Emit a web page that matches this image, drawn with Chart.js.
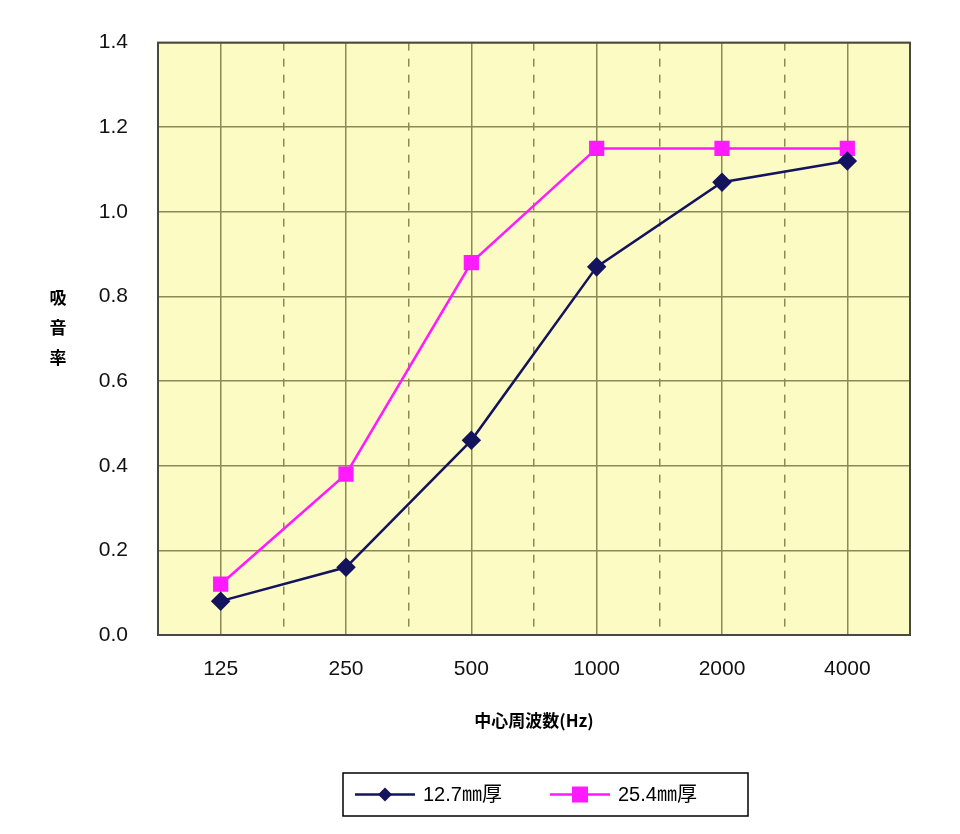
<!DOCTYPE html>
<html><head><meta charset="utf-8">
<script src="https://cdn.jsdelivr.net/npm/chart.js"></script>
<style>html,body{margin:0;padding:0;background:#fff}#w{width:960px;height:834px}</style>
</head><body><div id="w"><canvas id="c"></canvas></div>
<script>
const categories = ['125','250','500','1000','2000','4000'];
const series127 = [0.08, 0.16, 0.46, 0.87, 1.07, 1.12];
const series254 = [0.12, 0.38, 0.88, 1.15, 1.15, 1.15];
const seriesNames = ['12.7㎜厚', '25.4㎜厚'];
const yTitle = ['吸','音','率'];
const xTitle = '中心周波数(Hz)';
const FONT = '"Liberation Sans", Arial, "Noto Sans CJK JP", sans-serif';

const extras = {
  id: 'extras',
  beforeDraw(chart) {
    const a = chart.chartArea, ctx = chart.ctx;
    ctx.save(); ctx.fillStyle = '#fdfbc4';
    ctx.fillRect(a.left, a.top, a.right - a.left, a.bottom - a.top);
    ctx.restore();
  },
  afterDraw(chart) {
    const ctx = chart.ctx, a = chart.chartArea;
    ctx.save();
    ctx.strokeStyle = '#4a4a3a'; ctx.lineWidth = 2;
    ctx.strokeRect(a.left, a.top, a.right - a.left, a.bottom - a.top);
    ctx.fillStyle = '#000'; ctx.font = 'bold 17px "Noto Sans CJK JP", sans-serif';
    ctx.textAlign = 'center'; ctx.textBaseline = 'middle';
    yTitle.forEach((ch, i) => ctx.fillText(ch, 58, 298 + i * 30));
    const bx = 343, by = 773, bw = 405, bh = 43;
    ctx.strokeStyle = '#000'; ctx.lineWidth = 1.5; ctx.strokeRect(bx, by, bw, bh);
    const cy = by + bh / 2;
    chart.data.datasets.forEach((ds, i) => {
      const x0 = bx + 12 + i * 195;
      ctx.strokeStyle = ds.borderColor; ctx.lineWidth = 2.5;
      ctx.beginPath(); ctx.moveTo(x0, cy); ctx.lineTo(x0 + 60, cy); ctx.stroke();
      ctx.fillStyle = ds.backgroundColor;
      ctx.beginPath();
      if (i === 0) { const r = 7; ctx.moveTo(x0+30, cy-r); ctx.lineTo(x0+30+r, cy); ctx.lineTo(x0+30, cy+r); ctx.lineTo(x0+30-r, cy); }
      else { ctx.rect(x0+30-8, cy-8, 16, 16); }
      ctx.fill();
      ctx.fillStyle = '#000'; ctx.font = '20px ' + FONT; ctx.textAlign = 'left';
      ctx.fillText(ds.label, x0 + 68, cy + 1);
    });
    ctx.restore();
  }
};

new Chart(document.getElementById('c'), {
  type: 'line',
  data: {
    labels: categories,
    datasets: [
      { label: seriesNames[0], data: series127, borderColor: '#14145e', backgroundColor: '#14145e',
        borderWidth: 2.5, pointStyle: 'rectRot', pointRadius: 8, pointHoverRadius: 8, xAxisID: 'x' },
      { label: seriesNames[1], data: series254, borderColor: '#ff1aff', backgroundColor: '#ff1aff',
        borderWidth: 2.5, pointStyle: 'rect', pointRadius: 9, pointHoverRadius: 9, xAxisID: 'x' }
    ]
  },
  options: {
    responsive: true, maintainAspectRatio: false, animation: false,
    layout: { padding: { top: 40, right: 50, left: 0, bottom: 99 } },
    plugins: { legend: { display: false }, tooltip: { enabled: false } },
    scales: {
      x: {
        type: 'category', offset: true,
        grid: { offset: false, color: '#8a8a55', lineWidth: 1.5, drawTicks: false },
        border: { display: false },
        ticks: { color: '#111', font: { family: FONT, size: 21 }, padding: 22 },
        title: { display: true, text: xTitle, color: '#000', font: { family: '"Noto Sans CJK JP", sans-serif', size: 17, weight: 'bold' }, padding: { top: 6 } },
        afterFit(s) { s.height = 100; }
      },
      x2: {
        type: 'category', labels: categories, offset: true, position: 'bottom',
        grid: { offset: true, color: '#8a8a55', lineWidth: 1.5, drawTicks: false },
        border: { display: false, dash: [8, 8] },
        ticks: { display: false },
        afterFit(s) { s.height = 0; }
      },
      y: {
        min: 0, max: 1.4,
        grid: { color: '#8a8a55', lineWidth: 1.5, drawTicks: false },
        border: { display: false },
        ticks: { stepSize: 0.2, color: '#111', font: { family: FONT, size: 21 }, padding: 30,
                 callback: v => Number(v).toFixed(1) },
        afterFit(s) { s.width = 158; }
      }
    }
  },
  plugins: [extras]
});
</script></body></html>
